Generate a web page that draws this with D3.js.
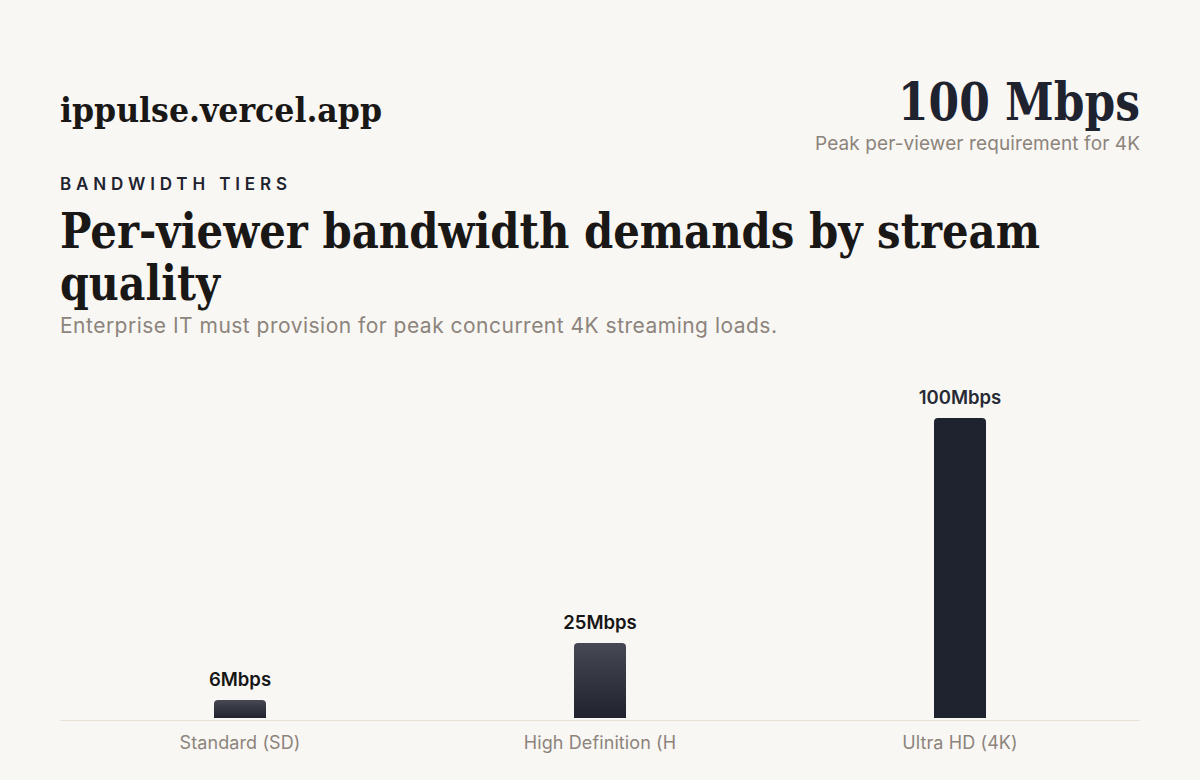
<!DOCTYPE html>
<html>
<head>
<meta charset="utf-8">
<script src="https://cdn.jsdelivr.net/npm/d3@7"></script>
<style>
  html, body { margin: 0; padding: 0; background: #f9f7f3; }
  svg { display: block; }
</style>
</head>
<body>
<svg id="chart" width="1200" height="780"></svg>
<script>
// data
const tiers = ['Standard (SD)', 'High Definition (HD)', 'Ultra HD (4K)'];
const bandwidth = [6, 25, 100];
const valueLabels = ['6Mbps', '25Mbps', '100Mbps'];
const yDomain = [0, 100];

const serif = '"DejaVu Serif", "Liberation Serif", serif';
const sans = 'Inter, "Noto Sans", sans-serif';
const ink = '#1f2330';
const muted = '#8c847c';

const left = 60;
const right = 1140;
const baseline = 718;
const plotTop = 418;

const svg = d3.select('#chart');

// header
svg.append('text')
  .attr('x', left).attr('y', 122)
  .attr('font-family', serif).attr('font-weight', 700)
  .attr('font-size', 33).attr('fill', '#1a1816')
  .attr('textLength', 322).attr('lengthAdjust', 'spacingAndGlyphs')
  .text('ippulse.vercel.app');

svg.append('text')
  .attr('x', right).attr('y', 120)
  .attr('text-anchor', 'end')
  .attr('font-family', serif).attr('font-weight', 700)
  .attr('font-size', 52).attr('fill', ink)
  .attr('textLength', 242).attr('lengthAdjust', 'spacingAndGlyphs')
  .text('100 Mbps');

svg.append('text')
  .attr('x', right).attr('y', 150)
  .attr('text-anchor', 'end')
  .attr('font-family', sans).attr('font-size', 19).attr('fill', muted)
  .attr('textLength', 325).attr('lengthAdjust', 'spacing')
  .text('Peak per-viewer requirement for 4K');

svg.append('text')
  .attr('x', left).attr('y', 190)
  .attr('font-family', sans).attr('font-weight', 600)
  .attr('font-size', 17).attr('fill', ink)
  .attr('textLength', 227).attr('lengthAdjust', 'spacing')
  .text('BANDWIDTH TIERS');

const title = svg.append('g')
  .attr('font-family', serif).attr('font-weight', 700)
  .attr('font-size', 48).attr('fill', '#1a1816');
title.append('text').attr('x', left).attr('y', 248)
  .attr('textLength', 980).attr('lengthAdjust', 'spacingAndGlyphs')
  .text('Per-viewer bandwidth demands by stream');
title.append('text').attr('x', left).attr('y', 300)
  .attr('textLength', 160).attr('lengthAdjust', 'spacingAndGlyphs')
  .text('quality');

svg.append('text')
  .attr('x', left).attr('y', 333)
  .attr('font-family', sans).attr('font-size', 21).attr('fill', muted)
  .attr('textLength', 717).attr('lengthAdjust', 'spacing')
  .text('Enterprise IT must provision for peak concurrent 4K streaming loads.');

// scales
const x = d3.scaleBand().domain(tiers).range([left, right]).padding(0);
const y = d3.scaleLinear().domain(yDomain).range([baseline, plotTop]);
const barW = 52;
const r = 4;

const defs = svg.append('defs');
const grad = defs.append('linearGradient')
  .attr('id', 'barGrad').attr('x1', 0).attr('y1', 0).attr('x2', 0).attr('y2', 1);
grad.append('stop').attr('offset', '0%').attr('stop-color', '#464953');
grad.append('stop').attr('offset', '100%').attr('stop-color', '#20232d');

const data = tiers.map((t, i) => ({ tier: t, value: bandwidth[i], label: valueLabels[i] }));
const maxVal = d3.max(bandwidth);

function barPath(d) {
  const x0 = x(d.tier) + x.bandwidth() / 2 - barW / 2;
  const x1 = x0 + barW;
  const yt = y(d.value);
  const yb = y(0);
  return `M${x0},${yb}V${yt + r}Q${x0},${yt} ${x0 + r},${yt}H${x1 - r}Q${x1},${yt} ${x1},${yt + r}V${yb}Z`;
}

// axis line
svg.append('line')
  .attr('x1', left).attr('x2', right)
  .attr('y1', baseline + 2.5).attr('y2', baseline + 2.5)
  .attr('stroke', '#e9e1d6').attr('stroke-width', 1);

svg.append('g').selectAll('path')
  .data(data)
  .join('path')
  .attr('d', barPath)
  .attr('fill', d => d.value === maxVal ? '#1f2330' : 'url(#barGrad)');

svg.append('g').selectAll('text')
  .data(data)
  .join('text')
  .attr('x', d => x(d.tier) + x.bandwidth() / 2)
  .attr('y', d => y(d.value) - 14)
  .attr('text-anchor', 'middle')
  .attr('font-family', sans).attr('font-weight', 600)
  .attr('font-size', 18.5)
  .attr('fill', d => d.value === maxVal ? '#262a35' : '#161616')
  .text(d => d.label);

// category axis
const axisX = d3.axisBottom(x).tickSize(0).tickPadding(0)
  .tickFormat(d => d.length > 18 ? d.slice(0, 18) : d);
const gx = svg.append('g')
  .attr('transform', `translate(0,${baseline})`)
  .call(axisX);
gx.select('.domain').remove();
gx.selectAll('text')
  .attr('y', 31)
  .attr('dy', 0)
  .attr('font-family', sans).attr('font-size', 18)
  .attr('letter-spacing', 0.1)
  .attr('fill', muted);
</script>
</body>
</html>
